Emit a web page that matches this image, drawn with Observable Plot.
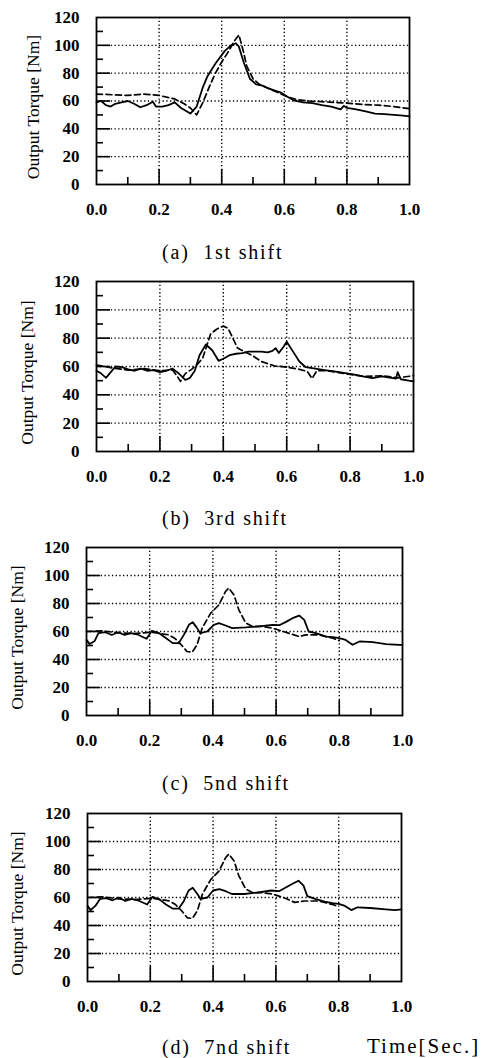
<!DOCTYPE html>
<html>
<head>
<meta charset="utf-8">
<script src="https://cdn.jsdelivr.net/npm/d3@7"></script>
<script src="https://cdn.jsdelivr.net/npm/@observablehq/plot@0.6"></script>
<style>
  html, body { margin: 0; padding: 0; background: #fff; }
  #root { position: relative; width: 481px; height: 1058px; overflow: hidden; background: #fff; }
  .panel { position: absolute; left: 0; }
  .cap { position: absolute; font-family: "Liberation Serif", "DejaVu Serif", serif; font-size: 20px; line-height: 20px; white-space: pre; color: #000; letter-spacing: 1.8px; }
</style>
</head>
<body>
<div id="root"></div>
<script>
// ---------- data ----------
const yTicks = [0, 20, 40, 60, 80, 100, 120];
const xTicks = [0, 0.2, 0.4, 0.6, 0.8, 1.0];
const gridY = [20, 40, 60, 80, 100];
const gridX = [0.2, 0.4, 0.6, 0.8];
const minorY = [10, 30, 50, 70, 90, 110];
const minorX = [0.1, 0.3, 0.5, 0.7, 0.9];
const yTitle = "Output Torque [Nm]";
const captions = ["(a)  1st shift", "(b)  3rd shift", "(c)  5nd shift", "(d)  7nd shift"];
const timeLabel = "Time[Sec.]";

// (a) 1st shift
const aSolidT = [0,0.015,0.03,0.045,0.06,0.08,0.10,0.12,0.14,0.16,0.18,0.19,0.21,0.23,0.25,0.27,0.30,0.32,0.34,0.355,0.38,0.41,0.43,0.445,0.455,0.47,0.49,0.51,0.53,0.55,0.57,0.59,0.61,0.63,0.66,0.69,0.72,0.75,0.78,0.79,0.80,0.83,0.86,0.89,0.92,0.95,0.98,1.0];
const aSolidV = [59,60,57,56,58,59,60,58,55.5,57,59.5,56,56,57,59,55,51,56,70,78,87,96,100,101.5,99,88,76,72,71,69,67.5,66,63,60.5,59,58.5,57,56,54,56.5,55,54,52.5,51,50.5,50,49.5,49];
const aDashT = [0,0.05,0.10,0.15,0.20,0.25,0.28,0.30,0.32,0.34,0.36,0.38,0.40,0.42,0.44,0.455,0.47,0.48,0.50,0.52,0.55,0.58,0.61,0.64,0.68,0.72,0.76,0.80,0.85,0.90,0.95,1.0];
const aDashV = [65,64.5,64,65,64,61.5,58,55,50,59,70,80,88,95,103,107.5,95,85,76,72,69,66,63,61,60,59.5,59,58.5,57.5,57,56,54.5];

// (b) 3rd shift
const bSolidT = [0,0.015,0.03,0.045,0.06,0.08,0.10,0.12,0.14,0.16,0.18,0.20,0.22,0.24,0.26,0.28,0.295,0.31,0.325,0.345,0.365,0.385,0.40,0.42,0.44,0.46,0.48,0.50,0.52,0.54,0.555,0.565,0.575,0.59,0.60,0.62,0.64,0.66,0.69,0.72,0.75,0.78,0.81,0.84,0.87,0.90,0.93,0.945,0.95,0.96,0.985,1.0];
const bSolidV = [57,55,52,56,60,59.5,58,57,58.5,57,57.5,56,57,58.5,55,50.5,52,57,68,75.5,71.5,64,65.5,68,69,69.5,70.5,70.5,70.5,70,71,73,69.5,74,77.5,70.5,63.5,59.5,58.5,57.5,56.5,55.5,54.5,53,51.8,53,52,51.5,56,51,50,49.5];
const bDashT = [0,0.05,0.10,0.15,0.20,0.24,0.255,0.265,0.28,0.30,0.32,0.335,0.36,0.38,0.40,0.415,0.43,0.445,0.47,0.49,0.52,0.56,0.60,0.64,0.665,0.68,0.695,0.73,0.77,0.81,0.85,0.90,0.95,1.0];
const bDashV = [61,59,57.5,58.5,57,57.5,53,49.5,55,58,62,66,83,86.5,88.5,87,80,73,70,68,63.5,60.5,59.5,58,56.5,51.5,57,57,55.5,54,53,53.5,52,53.5];

// (c) 5nd shift
const cSolidT = [0,0.01,0.025,0.038,0.06,0.08,0.10,0.12,0.14,0.16,0.19,0.207,0.23,0.25,0.273,0.292,0.308,0.324,0.336,0.35,0.36,0.382,0.403,0.419,0.44,0.461,0.504,0.546,0.588,0.61,0.63,0.652,0.673,0.689,0.703,0.726,0.758,0.78,0.80,0.82,0.842,0.864,0.906,0.948,0.99,1.0];
const cSolidV = [54,51,53,58.8,59.5,57.5,59.5,57.5,58.8,58,54.8,60.5,58.8,55.5,51.7,51.7,57.6,64.8,66.7,62.4,58.8,60,64.8,66,64.3,62.4,62.9,63.6,64.8,64.5,66.7,69.5,71.4,68.3,60,58.8,56.4,56,55.2,54,50.5,52.9,52.4,51,50.5,50.5];
const cDashT = [0,0.05,0.10,0.15,0.207,0.26,0.28,0.30,0.318,0.334,0.35,0.366,0.393,0.419,0.44,0.45,0.467,0.482,0.504,0.525,0.556,0.588,0.63,0.673,0.694,0.737,0.78,0.80];
const cDashV = [60,60.5,59,58.5,59.5,57.6,55,50.5,45.7,45.2,50.5,62.4,73.1,79,88.6,91,86,75.5,66,63.6,63.6,62.4,59.5,56.4,57.6,57.6,55.2,53.5];

// (d) 7nd shift
const dSolidT = [0,0.01,0.025,0.04,0.06,0.08,0.10,0.12,0.14,0.16,0.19,0.207,0.23,0.25,0.272,0.29,0.307,0.322,0.335,0.35,0.36,0.382,0.40,0.42,0.44,0.46,0.50,0.54,0.585,0.61,0.63,0.65,0.672,0.688,0.70,0.725,0.755,0.78,0.80,0.82,0.84,0.86,0.90,0.95,0.98,1.0];
const dSolidV = [54,51,54,59,59.5,58,60,57.5,59,58,55,60.5,58.5,55,52,52,57.5,65,67,62.5,59,60,65,66,64.5,62.5,62.5,63.5,65,64.5,67,69.5,72,68.5,61,59,57,56,55.5,54,51,53,52.5,51.5,51,51.5];
const dDashT = [0,0.05,0.10,0.15,0.207,0.26,0.28,0.30,0.318,0.334,0.35,0.366,0.393,0.419,0.44,0.45,0.467,0.482,0.504,0.525,0.556,0.588,0.63,0.66,0.69,0.737,0.78,0.80];
const dDashV = [60,60.5,59,58.5,59.5,57.6,55,50.5,45.5,45,50.5,62.5,73,79,88.5,91,86,75.5,66,63.5,63.5,62.5,59.5,56.5,57.5,57.5,55,53.5];

// ---------- layout ----------
const W = 481;
const panels = [
  {top: 0,   h: 230, mt: 17, mb: 46, ml: 96, mr: 72, titleDx: -63, solid: [aSolidT, aSolidV], dash: [aDashT, aDashV], capTop: 242},
  {top: 265, h: 230, mt: 16, mb: 44, ml: 96, mr: 68, titleDx: -69, solid: [bSolidT, bSolidV], dash: [bDashT, bDashV], capTop: 508},
  {top: 530, h: 230, mt: 17, mb: 45, ml: 86, mr: 79, titleDx: -69, solid: [cSolidT, cSolidV], dash: [cDashT, cDashV], capTop: 773},
  {top: 795, h: 230, mt: 18, mb: 44, ml: 87, mr: 80, titleDx: -70, solid: [dSolidT, dSolidV], dash: [dDashT, dDashV], capTop: 1037}
];

const root = document.getElementById("root");
const dots = "1.3,2.4";

panels.forEach((p, i) => {
  const pw = W - p.ml - p.mr;
  const ph = p.h - p.mt - p.mb;
  const xu = px => px / pw;          // pixel length -> x data units
  const yu = px => px * 120 / ph;    // pixel length -> y data units
  const solid = p.solid[0].map((t, k) => ({t, v: p.solid[1][k]}));
  const dash = p.dash[0].map((t, k) => ({t, v: p.dash[1][k]}));
  const chart = Plot.plot({
    width: W, height: p.h,
    marginTop: p.mt, marginBottom: p.mb, marginLeft: p.ml, marginRight: p.mr,
    style: {fontFamily: "'Liberation Serif', serif", fontSize: "17px", fontWeight: "bold", background: "transparent", color: "#000", overflow: "visible"},
    x: {domain: [0, 1]},
    y: {domain: [0, 120]},
    marks: [
      Plot.gridY(gridY, {stroke: "#000", strokeOpacity: 1, strokeWidth: 1.4, strokeDasharray: dots}),
      Plot.gridX(gridX, {stroke: "#000", strokeOpacity: 1, strokeWidth: 1.4, strokeDasharray: dots}),
      Plot.ruleY(gridY, {x1: 0, x2: xu(14), stroke: "#000", strokeWidth: 1.6}),
      Plot.ruleY(minorY, {x1: 0, x2: xu(7), stroke: "#000", strokeWidth: 1.6}),
      Plot.ruleX(gridX, {y1: 0, y2: yu(15), stroke: "#000", strokeWidth: 1.6}),
      Plot.ruleX(minorX, {y1: 0, y2: yu(7), stroke: "#000", strokeWidth: 1.6}),
      Plot.line(dash, {x: "t", y: "v", stroke: "#000", strokeWidth: 1.7, strokeDasharray: "6,3.5", curve: "linear"}),
      Plot.line(solid, {x: "t", y: "v", stroke: "#000", strokeWidth: 1.8, curve: "linear"}),
      Plot.frame({stroke: "#000", strokeWidth: 1.8}),
      Plot.axisY({ticks: yTicks, tickSize: 0, tickPadding: 17, label: null}),
      Plot.axisX({ticks: xTicks, tickSize: 0, tickPadding: 18, tickFormat: d3.format(".1f"), label: null}),
      Plot.text([yTitle], {frameAnchor: "left", textAnchor: "middle", rotate: -90, dx: p.titleDx, dy: 6, fontSize: 17.5, fontWeight: "normal", text: d => d})
    ]
  });
  const div = document.createElement("div");
  div.className = "panel";
  div.style.top = p.top + "px";
  div.appendChild(chart);
  root.appendChild(div);

  const cap = document.createElement("div");
  cap.className = "cap";
  cap.style.left = "162px";
  cap.style.top = p.capTop + "px";
  cap.textContent = captions[i];
  root.appendChild(cap);
});

const tl = document.createElement("div");
tl.className = "cap";
tl.style.left = "367px";
tl.style.top = "1036px";
tl.style.fontSize = "21px";
tl.style.letterSpacing = "2px";
tl.textContent = timeLabel;
root.appendChild(tl);
</script>
</body>
</html>
